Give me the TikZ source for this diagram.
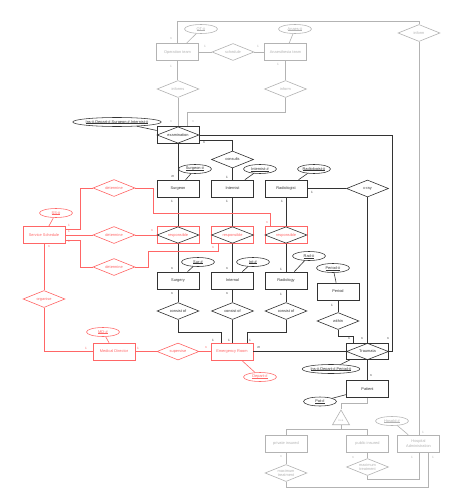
\documentclass[tikz,border=0pt]{standalone}
\usepackage{fontspec}
\setmainfont{Liberation Sans}
\usetikzlibrary{shapes.geometric}
\definecolor{gr}{HTML}{B3B3B3}
\definecolor{rd}{HTML}{FF6666}
\definecolor{bk}{HTML}{333333}
\newcommand\uln[1]{\setbox0\hbox{#1}\rlap{\rule[-0.6pt]{\wd0}{0.2pt}}\box0}
\begin{document}
\begin{tikzpicture}[x=1pt,y=-1pt,line width=0.6pt,
 every node/.style={font=\fontsize{3.9}{4.6}\selectfont,inner sep=0pt},
 ent/.style={draw,rectangle,minimum width=42pt,minimum height=17pt,align=center},
 attr/.style={draw,ellipse,minimum width=33pt,minimum height=9pt,line width=0.55pt},
 rel/.style={draw,diamond,aspect=2.5,minimum width=42pt,minimum height=17pt,align=center},
 aggbox/.style={draw,rectangle,minimum width=42pt,minimum height=16.5pt},
 lab/.style={font=\fontsize{3.2}{3.2}\selectfont},
 G/.style={draw=gr,text=gr},R/.style={draw=rd,text=rd},B/.style={draw=bk,text=bk}]
\fill[white] (0,0) rectangle (454,503);
\useasboundingbox (0,0) rectangle (454,503);
% gray top
\node[ent,G] (ot) at (177.5,52) {Operation team};
\node[attr,G] (otid) at (201,29) {\uln{OT-\#}};
\node[rel,G] (sched) at (233,52) {schedule};
\node[ent,G] (at) at (285.5,52) {Anaesthesia team};
\node[attr,G] (atid) at (295,29) {\uln{Anaes-\#}};
\node[rel,G] (informs) at (178,89) {informs};
\node[rel,G] (inform) at (285.5,89) {inform};
\node[rel,G] (inform2) at (419,33) {inform};
% black
\node[aggbox,B] (examb) at (178,135) {};
\node[rel,B,minimum height=16.5pt] (exam) at (178,135) {examination};
\node[attr,B,minimum width=76pt] (insA) at (117,122) {\uln{Ins-\#,Depart-\#,Surgeon-\#,Internist-\#}};
\node[rel,B] (consults) at (232.5,159.5) {consults};
\node[ent,B] (surgeon) at (178,188.5) {Surgeon};
\node[attr,B] (surgid) at (195,169) {\uln{Surgeon-\#}};
\node[ent,B] (internist) at (232.5,188.5) {Internist};
\node[attr,B] (intid) at (260,169) {\uln{Internist-\#}};
\node[ent,B] (radiologist) at (286,188.5) {Radiologist};
\node[attr,B] (radid) at (314,169) {\uln{Radiologist-\#}};
\node[rel,B] (xray) at (367.5,188.5) {x-ray};
\node[aggbox,R] (r1b) at (178,235) {};
\node[rel,draw=bk,text=rd,minimum height=16.5pt] (r1) at (178,235) {responsible};
\node[aggbox,R] (r2b) at (232.5,235) {};
\node[rel,draw=bk,text=rd,minimum height=16.5pt] (r2) at (232.5,235) {responsible};
\node[aggbox,R] (r3b) at (286,235) {};
\node[rel,draw=bk,text=rd,minimum height=16.5pt] (r3) at (286,235) {responsible};
\node[ent,B] (surgery) at (178,280.5) {Surgery};
\node[attr,B] (surid) at (198,262) {\uln{Sur-\#}};
\node[ent,B] (internal) at (232.5,280.5) {Internal};
\node[attr,B] (intlid) at (253,262) {\uln{Int-\#}};
\node[ent,B] (radiology) at (286,280.5) {Radiology};
\node[attr,B] (radlid) at (309,256) {\uln{Rad-\#}};
\node[ent,B] (period) at (338,291.5) {Period};
\node[attr,B] (perid) at (333,268) {\uln{Period-\#}};
\node[rel,B] (within) at (338,321) {within};
\node[rel,B] (c1) at (178,311) {consist of};
\node[rel,B] (c2) at (232.5,311) {consist of};
\node[rel,B] (c3) at (286,311) {consist of};
\node[aggbox,B] (trb) at (367.5,351.5) {};
\node[rel,B,minimum height=16.5pt] (tr) at (367.5,351.5) {Traumata};
\node[attr,B,minimum width=49pt] (insB) at (331,369) {\uln{Ins-\#,Depart-\#,Period-\#}};
\node[ent,B] (patient) at (367.5,389) {Patient};
\node[attr,B] (patid) at (320,401.5) {\uln{Pat-\#}};
% red
\node[ent,R] (ss) at (44,235) {Service Schedule};
\node[attr,R] (ssid) at (56,213) {\uln{SS-\#}};
\node[rel,R] (d1) at (114,188) {determine};
\node[rel,R] (d2) at (114,235) {determine};
\node[rel,R] (d3) at (114,267) {determine};
\node[rel,R] (org) at (44,299) {organise};
\node[ent,R] (md) at (114,351.5) {Medical Director};
\node[attr,R] (mdid) at (103,332) {\uln{MD-\#}};
\node[rel,R] (sup) at (178,351.5) {supervise};
\node[ent,R] (er) at (232,351.5) {Emergency Room};
\node[attr,R] (depid) at (260,377) {\uln{Depart-\#}};
% gray bottom
\node[regular polygon,regular polygon sides=3,draw=gr,minimum size=19.6pt] (isa) at (341,419.8) {};
\node[text=gr,font=\fontsize{3}{3}\selectfont] (isat) at (341,420) {is a};
\node[ent,G] (priv) at (286,443.5) {private insured};
\node[ent,G] (pub) at (367.5,443.5) {public insured};
\node[ent,G] (ha) at (418.5,443.5) {Hospital\\Administration};
\node[attr,G] (haid) at (392,421) {\uln{HospId-\#}};
\node[rel,G] (mt1) at (286,473) {maximum\\treatment};
\node[rel,G] (mt2) at (367.5,467) {maximum\\treatment};
% gray edges
\begin{scope}[gr]
\draw (ot.north) -- (ot.north |- 0,21) -| (inform2.north);
\draw (inform2.south) -- (inform2 |- ha.north);
\draw (otid) -- (ot);
\draw (atid) -- (at);
\draw (ot) -- (sched) -- (at);
\draw (ot.south) -- (ot.south |- informs.north);
\draw (informs.south) -- (informs.south |- examb.north);
\draw (at) -- (inform);
\draw (inform.south) -- (inform.south |- 0,112) -| ([xshift=9pt]examb.north);
\draw (patient.south) -- (patient.south |- 0,403) -| (isa.north);
\draw (isa.south) -- (isa.south |- 0,429);
\draw (priv.north) -- (priv.north |- 0,429) -- (pub.north |- 0,429) -- (pub.north);
\draw (priv) -- (mt1);
\draw (mt1.south) -- (mt1.south |- 0,487) -| ([xshift=9.5pt]ha.south);
\draw (pub) -- (mt2);
\draw (mt2.south) -- (mt2.south |- 0,479) -| (inform2 |- ha.south);
\draw (haid) -- (ha);
\end{scope}
% black edges
\begin{scope}[bk]
\draw (insA) -- (examb);
\draw (examb.east) -| (392,351.5) -- (trb.east);
\draw ([yshift=-5pt]examb.east) -| (consults.north);
\draw (consults) -- (internist);
\draw (examb.south) -- (examb.south |- surgeon.north);
\draw (surgid) -- (surgeon);
\draw (intid) -- (internist);
\draw (radid) -- (radiologist);
\draw (radiologist) -- (xray);
\draw (xray.south) -- (xray.south |- trb.north);
\draw (surgeon) -- (r1b); \draw (r1b) -- (surgery); \draw (surgery) -- (c1);
\draw (internist) -- (r2b); \draw (r2b) -- (internal); \draw (internal) -- (c2);
\draw (radiologist) -- (r3b); \draw (r3b) -- (radiology); \draw (radiology) -- (c3);
\draw (surid) -- (surgery);
\draw (intlid) -- (internal);
\draw (radlid) -- (radiology);
\draw (c1.south) -- (c1.south |- 0,332) -| ([xshift=-11pt]er.north);
\draw (c2.south) -- (c2.south |- er.north);
\draw (c3.south) -- (c3.south |- 0,332) -| ([xshift=15pt]er.north);
\draw (er) -- (trb);
\draw (perid) -- (period);
\draw (period) -- (within);
\draw (within.south) -- (within.south |- 0,336) -| ([xshift=-14pt]trb.north);
\draw (trb) -- (patient);
\draw (insB) -- (trb);
\draw (patid) -- (patient);
\end{scope}
% red edges
\begin{scope}[rd]
\draw (ssid) -- (ss);
\draw (ss.east |- 0,229.5) -- (80,229.5) |- (d1.west);
\draw (d1.east) -- (153,188) -- (153,213) -| (270,227);
\draw (ss) -- (d2);
\draw (d2) -- (r1b);
\draw (ss.east |- 0,240.5) -- (80,240.5) |- (d3.west);
\draw (d3.east) -- (148,267) -- (148,251) -| ([xshift=-14pt]r2b.south);
\draw (ss) -- (org);
\draw (org.south) |- (md.west);
\draw (mdid) -- (md);
\draw (md) -- (sup);
\draw (sup) -- (er);
\draw (er) -- (depid);
\end{scope}
% cardinality labels
\foreach \x/\y/\t [count=\i] in {171/39/n,205/46/1,258/46/1,171/66/1,278/64/1,171/122/n,193/122/n,423/432/1,281/457/n,433/457/1,353/458/n,412/457/1}
  \node[lab,text=gr] (lg\i) at (\x,\y) {\t};
\foreach \x/\y/\t [count=\i] in {173/177/m,227/177/1,204/143/n,388/339/n,312/192/1,362/339/n,172/201/1,227/201/1,282/201/1,172/269/n,227/269/n,281/269/1,172/294/n,227/294/n,281/294/1,213/340/1,229/340/1,250/340/1,259/348/m,332/305/1,349/339/n,371/376/n}
  \node[lab,text=bk] (lb\i) at (\x,\y) {\t};
\foreach \x/\y/\t [count=\i] in {69/225/1,69/231/1,69/241/1,152/231/n,267/223/n,213/248/n,49/247/n,86/348/1,138/348/1,206/348/n}
  \node[lab,text=rd] (lr\i) at (\x,\y) {\t};
\end{tikzpicture}
\end{document}
